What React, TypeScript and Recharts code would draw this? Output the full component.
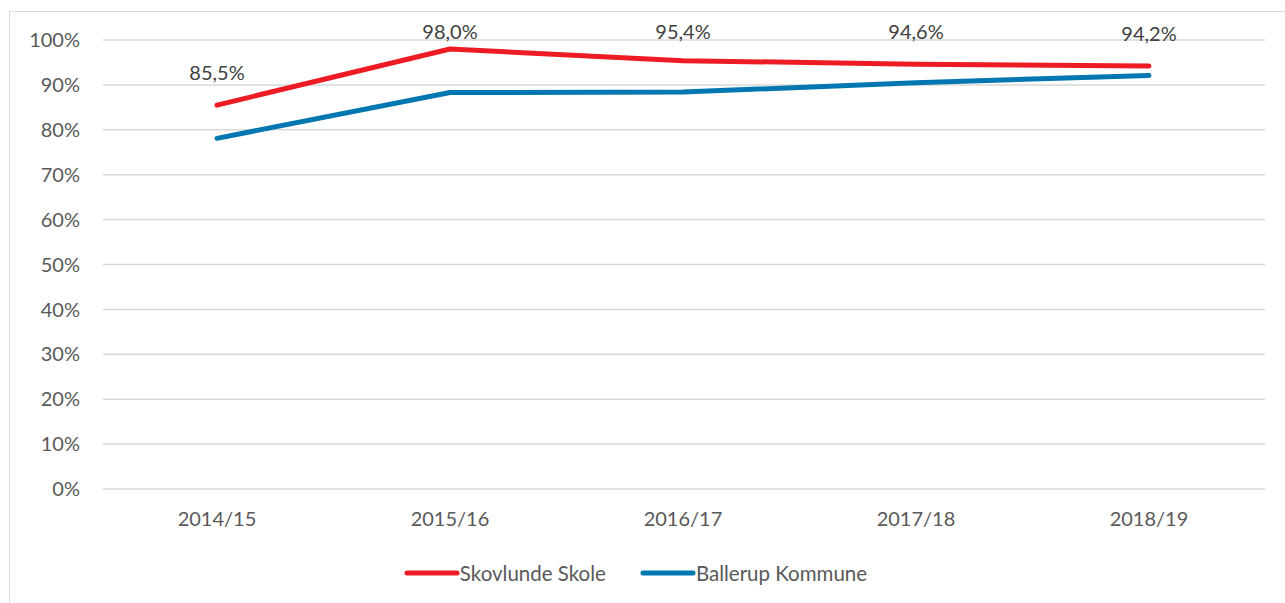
import React from "react";
import { CartesianGrid, LabelList, Line, LineChart, XAxis, YAxis } from "recharts";

const years = ["2014/15", "2015/16", "2016/17", "2017/18", "2018/19"];
const skovlunde = [85.5, 98.0, 95.4, 94.6, 94.2];
const ballerup = [78.1, 88.3, 88.4, 90.5, 92.1];
const yTicks = [0, 10, 20, 30, 40, 50, 60, 70, 80, 90, 100];

const RED = "#ED1C24";
const BLUE = "#0077B0";
const FONT = "Lato, 'Open Sans', sans-serif";

const data = years.map((y, i) => ({ year: y, skovlunde: skovlunde[i], ballerup: ballerup[i] }));

function PointLabel(props: any) {
  const { x, y, value } = props;
  // Excel keeps labels inside the chart area, so high points get pushed down
  const ty = Math.max(y - 33, 31);
  return (
    <text x={x} y={ty} textAnchor="middle" dominantBaseline="central" fill="#404040" fontSize={20} fontFamily={FONT}>
      {value.toFixed(1).replace(".", ",")}%
    </text>
  );
}

function LegendBox() {
  const items = [
    { name: "Skovlunde Skole", color: RED },
    { name: "Ballerup Kommune", color: BLUE },
  ];
  return (
    <div
      style={{
        position: "absolute",
        left: -7,
        top: 561,
        width: 1285,
        display: "flex",
        justifyContent: "center",
        gap: 34,
        fontFamily: FONT,
        fontSize: 20.5,
        color: "#595959",
      }}
    >
      {items.map((it) => (
        <div key={it.name} style={{ display: "flex", alignItems: "center" }}>
          <svg width={56} height={10}>
            <line x1={3} y1={5} x2={53} y2={5} stroke={it.color} strokeWidth={5} strokeLinecap="round" />
          </svg>
          <span>{it.name}</span>
        </div>
      ))}
    </div>
  );
}

export default function App() {
  return (
    <div style={{ position: "fixed", left: 0, top: 0, width: 1285, height: 603, background: "#fff", overflow: "hidden" }}>
      <div style={{ position: "absolute", left: 9, top: 11, width: 1290, height: 600, border: "1px solid #D9D9D9" }} />
      <LineChart width={1285} height={603} data={data} margin={{ top: 40, right: 20, bottom: 84, left: 0 }}>
        <CartesianGrid vertical={false} stroke="#D9D9D9" strokeWidth={1.5} />
        <XAxis
          dataKey="year"
          axisLine={false}
          tickLine={false}
          tickSize={0}
          tickMargin={23}
          padding={{ left: 114, right: 116 }}
          tick={{ fill: "#595959", fontSize: 20, fontFamily: FONT }}
        />
        <YAxis
          domain={[0, 100]}
          ticks={yTicks}
          width={103}
          axisLine={false}
          tickLine={false}
          tickSize={0}
          tickMargin={23}
          tickFormatter={(v) => `${v}%`}
          tick={{ fill: "#595959", fontSize: 20, fontFamily: FONT }}
        />
        <Line
          dataKey="skovlunde"
          name="Skovlunde Skole"
          stroke={RED}
          strokeWidth={5}
          strokeLinecap="round"
          strokeLinejoin="round"
          dot={false}
          isAnimationActive={false}
        >
          <LabelList dataKey="skovlunde" content={<PointLabel />} />
        </Line>
        <Line
          dataKey="ballerup"
          name="Ballerup Kommune"
          stroke={BLUE}
          strokeWidth={5}
          strokeLinecap="round"
          strokeLinejoin="round"
          dot={false}
          isAnimationActive={false}
        />
      </LineChart>
      <LegendBox />
    </div>
  );
}
